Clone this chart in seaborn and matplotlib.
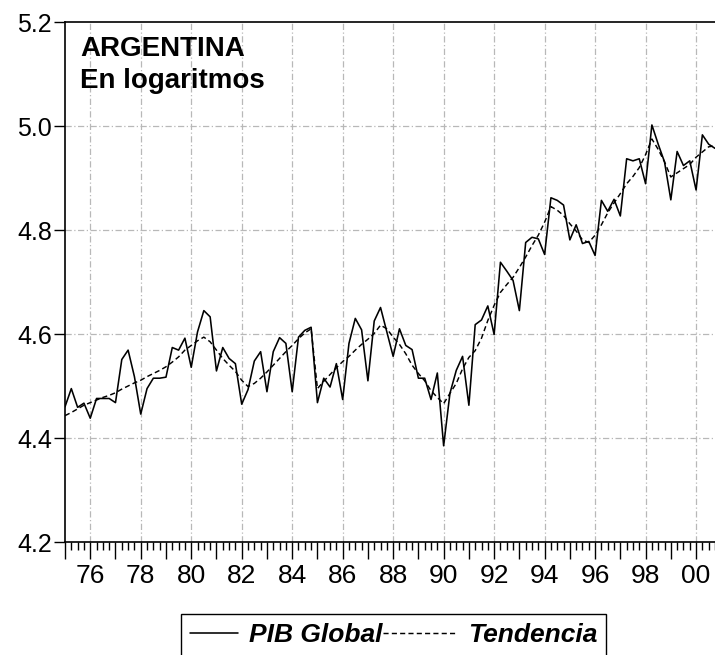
import numpy as np
import pandas as pd
import matplotlib
matplotlib.use("Agg")
import matplotlib.pyplot as plt
import seaborn as sns
from matplotlib.ticker import FixedLocator, FuncFormatter, MultipleLocator
from matplotlib.lines import Line2D
from matplotlib.legend_handler import HandlerLine2D

# Quarterly data 1975Q1 - 2000Q4
quarters = pd.period_range("1975Q1", "2000Q4", freq="Q")

pib_global = [
    4.460, 4.495, 4.459, 4.467, 4.438, 4.476, 4.476, 4.476, 4.468, 4.551,
    4.569, 4.518, 4.446, 4.495, 4.515, 4.515, 4.517, 4.574, 4.569, 4.592,
    4.536, 4.604, 4.645, 4.633, 4.529, 4.574, 4.553, 4.543, 4.465, 4.493,
    4.548, 4.566, 4.489, 4.566, 4.593, 4.582, 4.489, 4.594, 4.607, 4.613,
    4.468, 4.515, 4.498, 4.543, 4.474, 4.582, 4.630, 4.608, 4.510, 4.625,
    4.651, 4.604, 4.557, 4.610, 4.578, 4.570, 4.515, 4.515, 4.474, 4.525,
    4.385, 4.486, 4.530, 4.557, 4.463, 4.618, 4.627, 4.654, 4.599, 4.738,
    4.721, 4.703, 4.645, 4.776, 4.786, 4.783, 4.753, 4.862, 4.857, 4.848,
    4.781, 4.810, 4.774, 4.778, 4.751, 4.857, 4.836, 4.859, 4.827, 4.937,
    4.933, 4.937, 4.889, 5.002, 4.965, 4.931, 4.858, 4.951, 4.924, 4.933,
    4.877, 4.983, 4.965, 4.957,
]

tendencia = [
    4.443, 4.449, 4.456, 4.463, 4.468, 4.473, 4.478, 4.482, 4.487, 4.494,
    4.500, 4.506, 4.511, 4.518, 4.524, 4.530, 4.537, 4.546, 4.556, 4.569,
    4.578, 4.587, 4.594, 4.585, 4.569, 4.553, 4.540, 4.528, 4.511, 4.499,
    4.505, 4.515, 4.527, 4.540, 4.553, 4.566, 4.578, 4.591, 4.602, 4.610,
    4.495, 4.509, 4.522, 4.535, 4.547, 4.557, 4.569, 4.580, 4.590, 4.601,
    4.617, 4.610, 4.594, 4.580, 4.562, 4.540, 4.524, 4.510, 4.491, 4.478,
    4.466, 4.486, 4.505, 4.533, 4.555, 4.568, 4.592, 4.626, 4.655, 4.680,
    4.695, 4.709, 4.728, 4.748, 4.770, 4.790, 4.815, 4.845, 4.838, 4.828,
    4.812, 4.798, 4.781, 4.776, 4.790, 4.810, 4.833, 4.852, 4.870, 4.889,
    4.903, 4.920, 4.945, 4.975, 4.955, 4.931, 4.902, 4.910, 4.918, 4.926,
    4.940, 4.950, 4.960, 4.962,
]

y_ticks = [4.2, 4.4, 4.6, 4.8, 5.0, 5.2]
label_years = list(range(1976, 2001, 2))
title_lines = ["ARGENTINA", "En logaritmos"]
series_names = ["PIB Global", "Tendencia"]

sns.set_style("white")
plt.rcParams["font.family"] = ["Liberation Sans", "DejaVu Sans"]
plt.rcParams["text.color"] = "black"

W, H = 715, 655
fig = plt.figure(figsize=(W / 100, H / 100), dpi=100)
ax = fig.add_axes([65 / W, 1 - 542 / H, 650 / W, (542 - 22) / H])

t = quarters.year + (quarters.quarter - 1) / 4.0
df = pd.DataFrame({"t": t, series_names[0]: pib_global, series_names[1]: tendencia})

dash = (0, (3.5, 2.2))
sns.lineplot(data=df, x="t", y=series_names[0], ax=ax, color="black",
             linewidth=1.15, legend=False, zorder=3)
sns.lineplot(data=df, x="t", y=series_names[1], ax=ax, color="black",
             linewidth=1.05, linestyle=dash, legend=False, zorder=3)

ax.set_xlim(t[0], t[-1])
ax.set_ylim(y_ticks[0], y_ticks[-1])
ax.set_xlabel("")
ax.set_ylabel("")

# y axis
ax.yaxis.set_major_locator(FixedLocator(y_ticks))
ax.yaxis.set_major_formatter(FuncFormatter(lambda v, p: f"{v:.1f}"))
ax.tick_params(axis="y", which="major", direction="out", length=8, width=1,
               labelsize=18, pad=1.5, left=True, colors="black")

# x axis: yearly major ticks, quarterly minor ticks
years = list(range(int(t[0]), int(t[-1]) + 1))
ax.xaxis.set_major_locator(FixedLocator(years))
ax.xaxis.set_minor_locator(MultipleLocator(0.25))
ax.xaxis.set_major_formatter(FuncFormatter(
    lambda v, p: f"{int(round(v)) % 100:02d}" if int(round(v)) in label_years else ""))
ax.tick_params(axis="x", which="major", direction="out", length=12, width=1,
               labelsize=19, pad=4, bottom=True, colors="black")
ax.tick_params(axis="x", which="minor", direction="out", length=6, width=1,
               bottom=True, colors="black")

# grid (dash-dot light gray)
grid_style = dict(color="#b8b8b8", linewidth=0.9, linestyle=(0, (5, 2, 1, 2)), zorder=1)
for yr in label_years:
    ax.axvline(yr, **grid_style)
for yv in y_ticks[1:-1]:
    ax.axhline(yv, **grid_style)

for side in ["left", "bottom", "top"]:
    ax.spines[side].set_visible(True)
    ax.spines[side].set_color("black")
    ax.spines[side].set_linewidth(1.2)
ax.spines["right"].set_visible(False)

fig.text(80 / W, 1 - 36 / H, "\n".join(title_lines), fontsize=20, color="black",
         fontweight="bold", ha="left", va="top", linespacing=1.3)


class WideHandler(HandlerLine2D):
    """Line handle that extends to the left by `extra` points."""
    def __init__(self, extra, **kw):
        super().__init__(**kw)
        self.extra = extra

    def create_artists(self, legend, orig_handle, xdescent, ydescent, width,
                       height, fontsize, trans):
        e = self.extra
        return super().create_artists(legend, orig_handle, xdescent + e, ydescent,
                                      width + e, height, fontsize, trans)


handles = [Line2D([], [], color="black", linewidth=1.15),
           Line2D([], [], color="black", linewidth=1.05, linestyle=dash)]
fs = 19
leg = fig.legend(handles, series_names, ncol=2, loc="upper left",
                 bbox_to_anchor=(181 / W, 1 - 614 / H), frameon=True, fancybox=False,
                 edgecolor="black", framealpha=1,
                 prop=dict(size=fs, weight="bold", style="italic"),
                 handlelength=1.82, handletextpad=0.42, columnspacing=0.98,
                 borderpad=0.35, borderaxespad=0,
                 handler_map={handles[1]: WideHandler(extra=0.98 * fs)})
leg.get_frame().set_linewidth(1.0)

fig.savefig("out.png", dpi=100)
